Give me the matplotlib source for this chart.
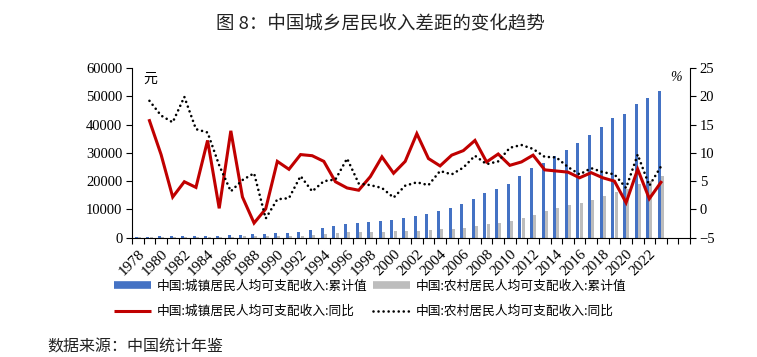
import matplotlib
matplotlib.use("Agg")
import matplotlib.pyplot as plt
import numpy as np
from matplotlib.lines import Line2D

plt.rcParams['font.family'] = ['Noto Sans CJK SC', 'DejaVu Sans']

years = list(range(1978, 2024))
urban_income = [343.4, 405.0, 477.6, 500.4, 535.3, 564.6, 652.1, 739.1, 900.9, 1002.1,
                1180.2, 1373.9, 1510.2, 1700.6, 2026.6, 2577.4, 3496.2, 4283.0, 4838.9, 5160.3,
                5425.1, 5854.0, 6280.0, 6859.6, 7702.8, 8472.2, 9421.6, 10493.0, 11759.5, 13785.8,
                15780.8, 17174.7, 19109.4, 21809.8, 24564.7, 26467.0, 28843.9, 31194.8, 33616.2, 36396.2,
                39250.8, 42358.8, 43833.8, 47411.9, 49282.9, 51821.0]
rural_income = [133.6, 160.2, 191.3, 223.4, 270.1, 309.8, 355.3, 397.6, 423.8, 462.6,
                544.9, 601.5, 686.3, 708.6, 784.0, 921.6, 1221.0, 1577.7, 1926.1, 2090.1,
                2162.0, 2210.3, 2253.4, 2366.4, 2475.6, 2622.2, 2936.4, 3254.9, 3587.0, 4140.4,
                4760.6, 5153.2, 5919.0, 6977.3, 7916.6, 9429.6, 10488.9, 11421.7, 12363.4, 13432.4,
                14617.0, 16020.7, 17131.5, 18930.9, 20132.8, 21691.0]
# YoY (from 1979)
urban_yoy = [15.7, 9.7, 2.2, 4.9, 3.9, 12.2, 0.2, 13.9, 2.2, -2.4,
             0.1, 8.5, 7.1, 9.7, 9.5, 8.5, 4.9, 3.8, 3.4, 5.8,
             9.3, 6.4, 8.5, 13.4, 9.0, 7.7, 9.6, 10.4, 12.2, 8.4,
             9.8, 7.8, 8.4, 9.6, 7.0, 6.8, 6.6, 5.6, 6.5, 5.6,
             5.0, 1.2, 7.1, 1.9, 4.8]
rural_yoy = [19.2, 16.6, 15.4, 19.9, 14.2, 13.6, 7.8, 3.2, 5.2, 6.4,
             -1.6, 1.8, 2.0, 5.9, 3.2, 5.0, 5.3, 9.0, 4.6, 4.3,
             3.8, 2.1, 4.2, 4.8, 4.3, 6.8, 6.2, 7.4, 9.5, 8.0,
             8.5, 10.9, 11.4, 10.7, 9.3, 9.2, 7.5, 6.2, 7.3, 6.6,
             6.2, 3.8, 9.7, 4.2, 7.6]
n_categories = 48  # axis spans 1978-2025
tick_label_years = list(range(1978, 2023, 2))

labels = ['中国:城镇居民人均可支配收入:累计值', '中国:农村居民人均可支配收入:累计值',
          '中国:城镇居民人均可支配收入:同比', '中国:农村居民人均可支配收入:同比']

blue = '#4472C4'
gray = '#BDBDBD'
red = '#C00000'

fig = plt.figure(figsize=(7.57, 3.57), dpi=100)
ax = fig.add_axes([0.1744, 0.334, 0.9115 - 0.1744, 0.8095 - 0.334])
ax2 = ax.twinx()

x = np.arange(len(years))
w = 0.26
ax.bar(x - 0.14, urban_income, width=w, color=blue, zorder=2)
ax.bar(x + 0.14, rural_income, width=w, color=gray, zorder=2)

ax2.plot(x[1:], urban_yoy, color=red, lw=2.2, solid_joinstyle='miter', zorder=3)
ax2.plot(x[1:], rural_yoy, color='black', lw=1.9, linestyle=(0, (0.01, 1.9)),
         dash_capstyle='round', zorder=3)

ax.set_xlim(-0.5, n_categories - 0.5)
ax.set_ylim(0, 60000)
ax.set_yticks(np.arange(0, 60001, 10000))
ax2.set_ylim(-5, 25)
ax2.set_yticks(np.arange(-5, 26, 5))

serif = 'Liberation Serif'
ax.set_xticks(np.arange(-0.5, n_categories, 1.0))
ax.set_xticklabels([])
ax.set_xticks([years.index(y) for y in tick_label_years], minor=True)
ax.set_xticklabels([str(y) for y in tick_label_years], minor=True, rotation=45,
                   ha='right', rotation_mode='anchor', fontfamily=serif, fontsize=11)
ax.tick_params(axis='x', which='major', direction='out', length=4, width=0.8)
ax.tick_params(axis='x', which='minor', length=0, pad=7)
ax.tick_params(axis='y', direction='out', length=4, width=0.8, pad=3)
ax2.tick_params(axis='y', direction='out', length=4, width=0.8, pad=3)
for lab in ax.get_yticklabels() + ax2.get_yticklabels():
    lab.set_fontfamily(serif)
    lab.set_fontsize(10.5)

for a in (ax, ax2):
    a.spines['top'].set_visible(False)
    for s in a.spines.values():
        s.set_linewidth(0.8)
ax2.spines['left'].set_visible(False)
ax2.spines['bottom'].set_visible(False)
ax.spines['right'].set_visible(False)

ax.text(0.02, 0.98, '元', transform=ax.transAxes, fontsize=10, va='top', ha='left')
ax2.text(0.985, 0.985, '%', transform=ax.transAxes, fontsize=10, va='top', ha='right',
         fontfamily=serif, style='italic')

fig.text(0.502, 0.935, '图 8：中国城乡居民收入差距的变化趋势', ha='center', va='center',
         fontsize=13.3, color='#222222')
fig.text(0.063, 0.004, '数据来源：中国统计年鉴', ha='left', va='bottom', fontsize=11.5,
         color='#222222')

handles = [Line2D([], [], color=blue, lw=5.5, solid_capstyle='butt'),
           Line2D([], [], color=red, lw=2.2, solid_capstyle='butt'),
           Line2D([], [], color=gray, lw=5.5, solid_capstyle='butt'),
           Line2D([], [], color='black', lw=1.9, linestyle=(0, (0.01, 1.9)), dash_capstyle='round')]
leg_labels = [labels[0], labels[2], labels[1], labels[3]]
fig.legend(handles, leg_labels, ncol=2, loc='upper left', bbox_to_anchor=(0.151, 0.216),
           frameon=False, fontsize=9.15, handlelength=2.85, handletextpad=0.5,
           columnspacing=0.45, labelspacing=0.95, borderaxespad=0, borderpad=0)

fig.savefig('out.png', dpi=100)
